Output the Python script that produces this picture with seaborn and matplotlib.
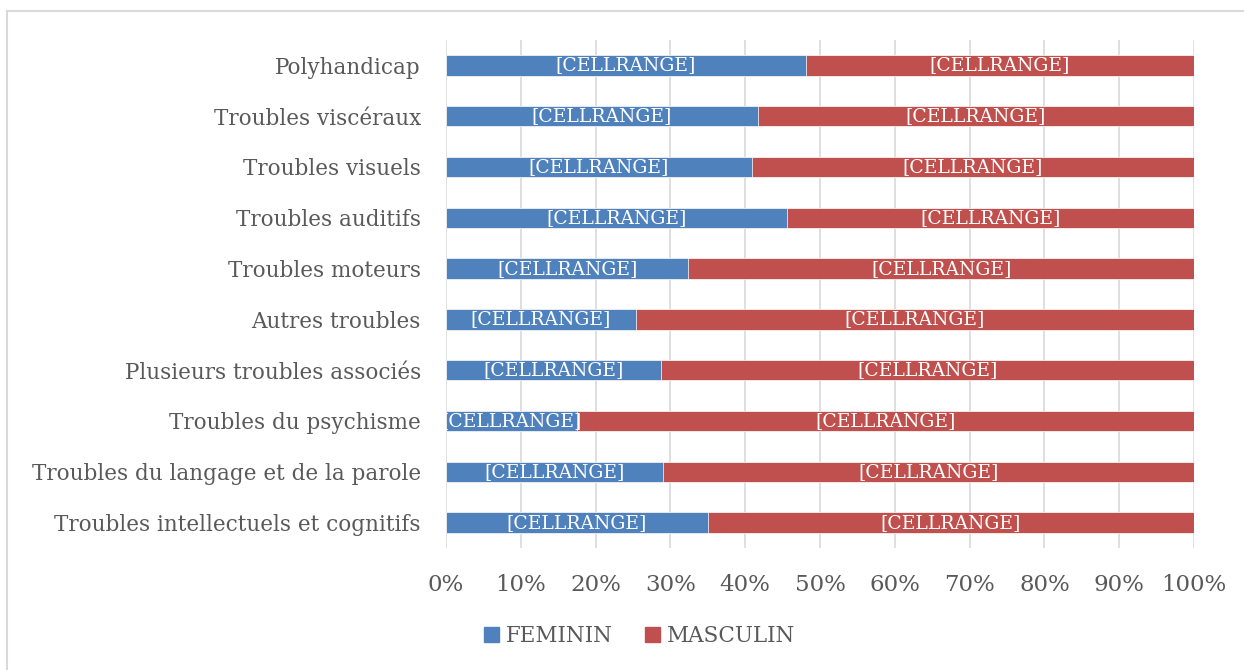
import matplotlib.pyplot as plt
import matplotlib.patches as mpatches
import seaborn as sns
import pandas as pd

categories = [
    "Polyhandicap",
    "Troubles viscéraux",
    "Troubles visuels",
    "Troubles auditifs",
    "Troubles moteurs",
    "Autres troubles",
    "Plusieurs troubles associés",
    "Troubles du psychisme",
    "Troubles du langage et de la parole",
    "Troubles intellectuels et cognitifs",
]
feminin = [48.1, 41.7, 40.9, 45.6, 32.4, 25.4, 28.7, 17.5, 29.0, 35.0]
masculin = [100 - f for f in feminin]
series = ["FEMININ", "MASCULIN"]
ticks = [0, 10, 20, 30, 40, 50, 60, 70, 80, 90, 100]

df = pd.DataFrame({"cat": categories, "FEMININ": feminin, "MASCULIN": masculin})
df["total"] = df["FEMININ"] + df["MASCULIN"]

blue = "#4F81BD"
red = "#C0504D"
grey = "#595959"

sns.set_style("white")
plt.rcParams["font.family"] = ["DejaVu Serif"]

fig = plt.figure(figsize=(12.44, 6.70), dpi=100)
ax = fig.add_axes([0.3585, 0.1821, 0.6013, 0.7582])

# red bar = full 100%, blue bar drawn on top
sns.barplot(data=df, x="total", y="cat", color=red, width=0.4, ax=ax,
            saturation=1, edgecolor="white", linewidth=0.5, zorder=3)
sns.barplot(data=df, x="FEMININ", y="cat", color=blue, width=0.4, ax=ax,
            saturation=1, edgecolor="white", linewidth=0.5, zorder=3)

red_bars = ax.containers[0]
blue_bars = ax.containers[1]
for bars, vals, offs in [(blue_bars, feminin, [0] * len(feminin)),
                         (red_bars, masculin, feminin)]:
    for b, v, o in zip(bars, vals, offs):
        ax.text(o + v / 2, b.get_y() + b.get_height() / 2, "[CELLRANGE]",
                ha="center", va="center", color="white", fontsize=13.5,
                zorder=4, clip_on=True)

ax.set_xlim(0, 100)
ax.set_xticks(ticks)
ax.set_xticklabels([f"{t}%" for t in ticks])
ax.set_xlabel(None)
ax.set_ylabel(None)
ax.xaxis.grid(True, color="#D9D9D9", linewidth=1.2, zorder=0)
ax.set_axisbelow(True)
for s in ax.spines.values():
    s.set_visible(False)
ax.tick_params(axis="x", length=0, pad=19, labelsize=16.5, labelcolor=grey)
ax.tick_params(axis="y", length=0, pad=18, labelsize=15.5, labelcolor=grey)

handles = [mpatches.Patch(color=blue, label=series[0]),
           mpatches.Patch(color=red, label=series[1])]
fig.legend(handles=handles, loc="center", bbox_to_anchor=(0.514, 0.051), ncol=2,
           frameon=False, fontsize=15.5, labelcolor=grey, handlelength=0.7,
           handleheight=0.7, handletextpad=0.3, columnspacing=1.5)

fig.patches.append(mpatches.Rectangle((7 / 1244, -0.05), 1.1, 1.05 - 11 / 670,
                                      transform=fig.transFigure, fill=False,
                                      edgecolor="#D9D9D9", linewidth=1.5))

fig.savefig("out.png", dpi=100)
